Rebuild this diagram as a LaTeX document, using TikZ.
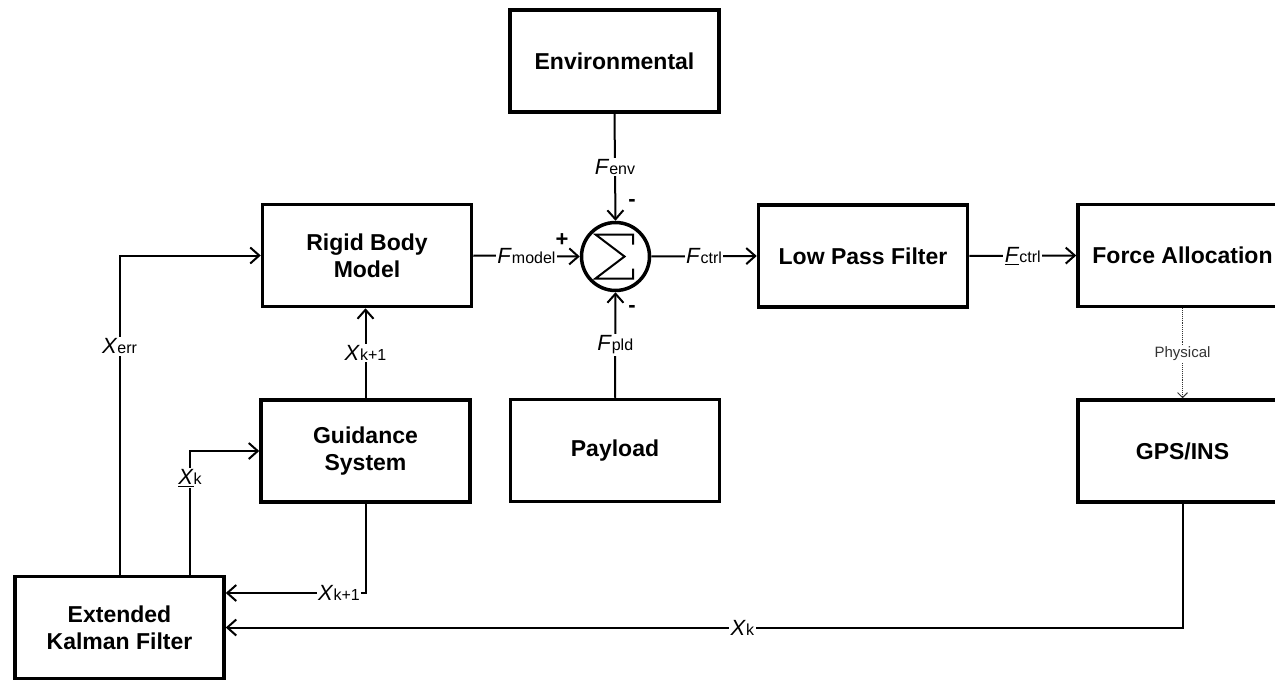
\documentclass[tikz,border=0pt]{standalone}
\usepackage{fontspec}
\setmainfont{Liberation Sans}
\usetikzlibrary{arrows.meta}
\newcommand\sublbl[2]{\textit{#1}{\fontsize{16}{18}\selectfont #2}}
\begin{document}
\begin{tikzpicture}[x=1pt,y=-1pt,
  block/.style={draw, line width=3.5pt, minimum width=209pt, minimum height=102pt,
    font=\fontsize{23}{27}\selectfont\bfseries, align=center, inner sep=0pt},
  conn/.style={line width=2pt, -{Straight Barb[length=9pt,width=16pt,line width=2pt]}},
  lbl/.style={fill=white, inner sep=1.5pt, font=\fontsize{22}{24}\selectfont},
  sign/.style={inner sep=0pt, font=\fontsize{22}{24}\selectfont\bfseries},
  phys/.style={line width=0.9pt, densely dotted, draw=black!80,
    -{Straight Barb[length=5pt,width=10pt,line width=0.9pt]}},
]
\useasboundingbox (0,0) rectangle (1275,682);
\clip (0,0) rectangle (1275,682);

% blocks
\node[block] (env)   at (614.5,61)   {Environmental};
\node[block] (rigid) at (367,255.5)  {Rigid Body\\Model};
\node[block] (lpf)   at (863,256)    {Low Pass Filter};
\node[block] (force) at (1182.5,255.5) {Force Allocation};
\node[block] (guid)  at (365.5,451)  {Guidance\\System};
\node[block] (pay)   at (615,450.5)  {Payload};
\node[block] (gps)   at (1182.5,451) {GPS/INS};
\node[block] (ekf)   at (119.5,627.5) {Extended\\Kalman Filter};

% summing junction
\node[draw, circle, line width=3.5pt, minimum size=68pt, inner sep=0pt] (sum) at (615.5,256.5) {};
\draw[line width=2pt, line join=miter] ([shift={(17.5,-12)}]sum.center) -- ([shift={(17.5,-22)}]sum.center)
  -- ([shift={(-20,-22)}]sum.center) -- ([shift={(9,0)}]sum.center)
  -- ([shift={(-20,22)}]sum.center) -- ([shift={(17.5,22)}]sum.center)
  -- ([shift={(17.5,12)}]sum.center);

\node[sign] (plus)  at (562,240) {+};
\node[sign] (mtop)  at (632,203) {-};
\node[sign] (mbot)  at (632,309) {-};

% connectors
\draw[conn] (rigid.east) -- node[lbl] {\sublbl{F}{model}} (sum.west);
\draw[conn] (sum.east) -- node[lbl] {\sublbl{F}{ctrl}} (lpf.west);
\draw[conn] (lpf.east) -- node[lbl] {\underline{\textit{F}}{\fontsize{16}{18}\selectfont ctrl}} (force.west);
\draw[conn] (env.south) -- node[lbl] {\sublbl{F}{env}} (sum.north);
\draw[conn] (pay.north) -- node[lbl] {\sublbl{F}{pld}} (sum.south);
\draw[conn] (guid.north) -- node[lbl] {\sublbl{X}{k+1}} (guid.north |- rigid.south);

\draw[conn] (ekf.north) -- node[lbl, pos=0.715] {\sublbl{X}{err}} (ekf.north |- rigid.west) -- (rigid.west);

\coordinate (ekfk) at ([xshift=70.5pt]ekf.north);
\draw[conn] (ekfk) -- node[lbl, pos=0.78] {\underline{\textit{X}}{\fontsize{16}{18}\selectfont k}} (ekfk |- guid.west) -- (guid.west);

\coordinate (ekfin) at ([yshift=34.5pt]ekf.east);
\draw[conn] (guid.south) -- (guid.south |- ekfin) -- node[lbl, pos=0.19] {\sublbl{X}{k+1}} (ekfin);

\draw[conn] (gps.south) -- (gps.south |- ekf.east) -- node[lbl, pos=0.46] {\sublbl{X}{k}} (ekf.east);

\draw[phys] (force.south) -- node[fill=white, inner sep=1.5pt, font=\fontsize{15}{17}\selectfont, text=black!80] {Physical} (gps.north);
\end{tikzpicture}
\end{document}
